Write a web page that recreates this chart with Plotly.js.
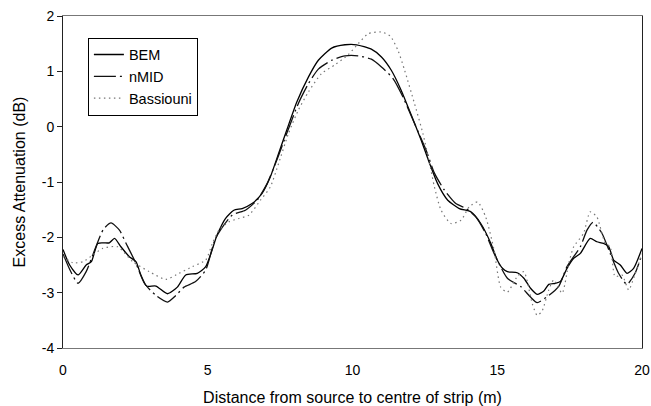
<!DOCTYPE html>
<html>
<head>
<meta charset="utf-8">
<script src="https://cdn.plot.ly/plotly-3.0.1.min.js"></script>
<style>html,body{margin:0;padding:0;background:#fff;}#chart{width:651px;height:406px;}</style>
</head>
<body>
<div id="chart"></div>
<script>
const bemX = [0, 0.23, 0.52, 0.8, 0.98, 1.2, 1.4, 1.6, 1.78, 2.0, 2.29, 2.52, 2.69, 2.89, 3.21, 3.61, 3.95, 4.24, 4.64, 4.93, 5.33, 5.61, 5.9, 6.19, 6.53, 6.87, 7.16, 7.45, 7.73, 8.08, 8.48, 8.82, 9.28, 9.74, 10.14, 10.65, 11.0, 11.34, 11.68, 12.03, 12.37, 12.66, 12.94, 13.29, 13.69, 14.09, 14.43, 14.78, 15.0, 15.18, 15.35, 15.69, 15.92, 16.15, 16.38, 16.61, 16.78, 17.01, 17.18, 17.41, 17.64, 17.87, 18.21, 18.44, 18.67, 18.85, 19.02, 19.25, 19.48, 19.71, 20];
const bemY = [-2.22, -2.5, -2.68, -2.5, -2.44, -2.11, -2.1, -2.1, -2.02, -2.17, -2.35, -2.44, -2.68, -2.88, -2.88, -3.02, -2.9, -2.68, -2.65, -2.53, -1.95, -1.66, -1.51, -1.48, -1.39, -1.21, -0.91, -0.48, -0.06, 0.45, 0.9, 1.2, 1.42, 1.48, 1.48, 1.4, 1.26, 1.02, 0.66, 0.21, -0.24, -0.66, -1.03, -1.33, -1.48, -1.54, -1.75, -2.11, -2.41, -2.56, -2.62, -2.64, -2.74, -2.92, -3.03, -2.97, -2.85, -2.83, -2.8, -2.56, -2.38, -2.29, -2.02, -2.08, -2.11, -2.17, -2.41, -2.5, -2.65, -2.56, -2.2];

const nmidX = [0, 0.25, 0.52, 0.8, 1.15, 1.4, 1.66, 1.95, 2.18, 2.52, 2.81, 3.21, 3.61, 3.9, 4.18, 4.58, 4.93, 5.27, 5.84, 6.3, 6.7, 7.05, 7.39, 7.73, 8.13, 8.48, 8.82, 9.28, 9.74, 10.2, 10.65, 11.0, 11.4, 11.74, 12.14, 12.54, 12.83, 13.18, 13.57, 13.92, 14.26, 14.6, 14.89, 15.35, 15.81, 16.15, 16.38, 16.78, 17.13, 17.41, 17.87, 18.1, 18.31, 18.62, 18.9, 19.19, 19.48, 19.76, 20];
const nmidY = [-2.3, -2.6, -2.83, -2.62, -2.15, -1.85, -1.74, -1.87, -2.11, -2.47, -2.83, -3.05, -3.17, -3.05, -2.9, -2.8, -2.59, -2.02, -1.6, -1.51, -1.33, -1.03, -0.6, -0.12, 0.42, 0.78, 1.04, 1.2, 1.28, 1.28, 1.22, 1.08, 0.87, 0.54, 0.06, -0.42, -0.84, -1.15, -1.39, -1.48, -1.63, -1.93, -2.29, -2.74, -2.89, -3.08, -3.18, -3.05, -2.88, -2.53, -2.17, -1.87, -1.73, -1.93, -2.29, -2.65, -2.85, -2.65, -2.3];

const bassX = [0, 0.34, 0.69, 1.03, 1.37, 1.89, 2.41, 2.98, 3.55, 4.01, 4.47, 4.93, 5.16, 5.39, 5.73, 6.07, 6.42, 6.82, 7.16, 7.45, 7.79, 8.13, 8.48, 8.93, 9.4, 9.85, 10.2, 10.54, 11.0, 11.3, 11.57, 11.8, 12.14, 12.43, 12.66, 12.83, 13.06, 13.4, 13.75, 14.03, 14.32, 14.6, 14.89, 15.12, 15.35, 15.69, 15.92, 16.21, 16.38, 16.55, 16.78, 16.95, 17.24, 17.47, 17.64, 17.98, 18.21, 18.44, 18.73, 18.9, 19.07, 19.31, 19.54, 19.77, 20];
const bassY = [-2.34, -2.46, -2.44, -2.32, -2.2, -2.17, -2.44, -2.62, -2.76, -2.65, -2.53, -2.41, -2.11, -1.87, -1.72, -1.66, -1.6, -1.33, -1.09, -0.66, -0.12, 0.3, 0.63, 0.96, 1.12, 1.3, 1.5, 1.68, 1.71, 1.64, 1.38, 1.02, 0.42, -0.12, -0.66, -1.09, -1.51, -1.75, -1.69, -1.45, -1.36, -1.63, -2.23, -2.9, -2.99, -2.71, -2.62, -3.2, -3.41, -3.33, -2.95, -2.77, -3.01, -2.47, -2.17, -1.93, -1.54, -1.63, -2.11, -2.17, -2.71, -2.68, -2.95, -2.65, -2.3];

const seriesNames = ['BEM', 'nMID', 'Bassiouni'];
const xTicks = [0, 5, 10, 15, 20];
const yTicks = [-4, -3, -2, -1, 0, 1, 2];

const font = "Arial, 'Liberation Sans', sans-serif";

const traces = [
  {x: bemX, y: bemY, name: seriesNames[0], mode: 'lines',
   line: {color: '#000', width: 1.3, shape: 'spline', smoothing: 0.6}},
  {x: nmidX, y: nmidY, name: seriesNames[1], mode: 'lines',
   line: {color: '#111', width: 1.3, dash: '22px,4px,2px,4px', shape: 'spline', smoothing: 0.6}},
  {x: bassX, y: bassY, name: seriesNames[2], mode: 'lines',
   line: {color: '#777', width: 1.2, dash: '1.5px,3.5px', shape: 'spline', smoothing: 0.6}}
];

const layout = {
  width: 651, height: 406,
  margin: {l: 63, r: 9, t: 16, b: 58},
  paper_bgcolor: '#fff', plot_bgcolor: '#fff',
  font: {family: font, size: 14, color: '#000'},
  showlegend: true,
  legend: {x: 0.043, y: 0.935, xanchor: 'left', yanchor: 'top',
           bordercolor: '#000', borderwidth: 1, bgcolor: '#fff',
           font: {family: font, size: 14.5, color: '#000'},
           itemwidth: 30, tracegroupgap: 0},
  xaxis: {range: [0, 20], tickvals: xTicks, ticktext: xTicks.map(String),
          showgrid: false, zeroline: false, showline: true, mirror: true,
          linecolor: '#777', linewidth: 1, ticks: '',
          ticklabeloverflow: 'allow', ticklabelstandoff: 9,
          tickfont: {family: font, size: 14},
          title: {text: 'Distance from source to centre of strip (m)', font: {family: font, size: 16}, standoff: 16}},
  yaxis: {range: [-4, 2], tickvals: yTicks, ticktext: yTicks.map(String),
          showgrid: false, zeroline: false, showline: true, mirror: true,
          linecolor: '#222', linewidth: 1, ticks: 'outside', ticklen: 5, tickcolor: '#222',
          tickfont: {family: font, size: 14},
          title: {text: 'Excess Attenuation (dB)', font: {family: font, size: 16}, standoff: 12}}
};

Plotly.newPlot('chart', traces, layout, {staticPlot: true, displayModeBar: false});
</script>
</body>
</html>
